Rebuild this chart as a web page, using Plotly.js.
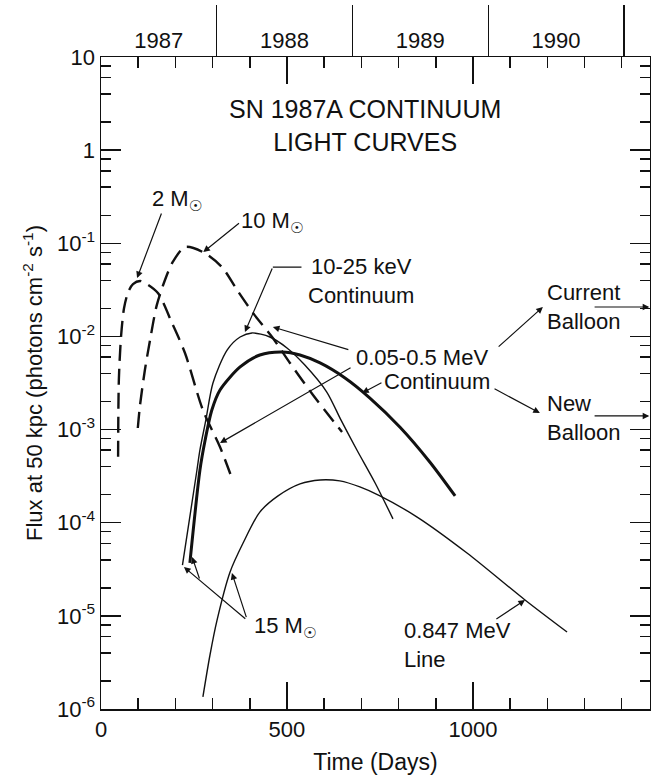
<!DOCTYPE html>
<html>
<head>
<meta charset="utf-8">
<script src="https://cdn.plot.ly/plotly-3.0.1.min.js"></script>
<style>html,body{margin:0;padding:0;background:#fff;}#chart{width:651px;height:775px;}</style>
</head>
<body>
<div id="chart"></div>
<script>
// ---- data (days since explosion, flux in photons cm^-2 s^-1) ----
const m2Days  = [46, 48, 54, 62, 73, 86, 105, 118, 153, 191, 226, 274, 320, 352];
const m2Flux  = [5.1e-4, 3.4e-3, 1.01e-2, 2.02e-2, 2.99e-2, 3.65e-2, 3.94e-2, 3.75e-2, 2.92e-2, 1.39e-2, 6.6e-3, 1.62e-3, 6.5e-4, 3.0e-4];

const m10Days = [99, 105, 118, 132, 150, 172, 193, 226, 274, 325, 366, 409, 462, 508, 570, 648];
const m10Flux = [1.04e-3, 1.84e-3, 4.36e-3, 9.2e-3, 2.17e-2, 4.04e-2, 6.3e-2, 9.12e-2, 8.05e-2, 5.56e-2, 3.15e-2, 1.78e-2, 9.6e-3, 5.19e-3, 2.35e-3, 9.4e-4];

const kevDays = [219, 258, 266, 282, 301, 339, 374, 406, 454, 500, 548, 607, 645, 688, 737, 785];
const kevFlux = [3.5e-5, 3.68e-4, 6.04e-4, 1.27e-3, 3.16e-3, 7.14e-3, 9.86e-3, 1.09e-2, 9.86e-3, 7.52e-3, 4.93e-3, 2.53e-3, 1.27e-3, 6.04e-4, 2.67e-4, 1.1e-4];

const mevDays = [239, 266, 280, 298, 320, 374, 427, 487, 535, 589, 656, 723, 804, 884, 952];
const mevFlux = [3.7e-5, 3.68e-4, 7.73e-4, 1.62e-3, 2.66e-3, 4.7e-3, 6.32e-3, 6.81e-3, 6.32e-3, 5.19e-3, 3.58e-3, 2.18e-3, 1.06e-3, 4.49e-4, 1.94e-4];

const lineDays = [274, 293, 312, 347, 382, 427, 476, 535, 589, 642, 696, 750, 850, 984, 1140, 1253];
const lineFlux = [1.35e-6, 3.8e-6, 9.0e-6, 2.96e-5, 6.05e-5, 1.3e-4, 1.94e-4, 2.61e-4, 2.88e-4, 2.81e-4, 2.42e-4, 1.94e-4, 1.15e-4, 4.73e-5, 1.48e-5, 6.7e-6];

const xMajorTicks = [0, 500, 1000];
const xTickText   = ['0', '500', '1000'];
const yDecades    = [-6, -5, -4, -3, -2, -1, 0, 1];
const yTickText   = ['10<sup>-6</sup>','10<sup>-5</sup>','10<sup>-4</sup>','10<sup>-3</sup>','10<sup>-2</sup>','10<sup>-1</sup>','1','10'];
const years          = ['1987', '1988', '1989', '1990'];
const yearBoundaries = [311, 676, 1041, 1406];

const X_MAX = 1476;
const FONT = 'Liberation Sans, Arial, DejaVu Sans, sans-serif';
const INK = '#111';

// ---- derived tick positions ----
const xMinor = [];
for (let d = 100; d <= 1400; d += 100) if (d % 500 !== 0) xMinor.push(d);
const yMajor = yDecades.map(p => Math.pow(10, p));
const yMinor = [];
for (let p = -6; p < 1; p++) [2, 4, 6, 8].forEach(m => yMinor.push(m * Math.pow(10, p)));
const yearStarts = [0].concat(yearBoundaries.slice(0, -1));
const yearMids = years.map((y, i) => (yearStarts[i] + yearBoundaries[i]) / 2);

const traces = [
  {x: m2Days,  y: m2Flux,  mode: 'lines', line: {color: INK, width: 2.4, dash: '16px,8px', shape: 'spline', smoothing: 0.8}},
  {x: m10Days, y: m10Flux, mode: 'lines', line: {color: INK, width: 2.4, dash: '16px,8px', shape: 'spline', smoothing: 0.8}},
  {x: kevDays, y: kevFlux, mode: 'lines', line: {color: INK, width: 1.4, shape: 'spline', smoothing: 0.8}},
  {x: mevDays, y: mevFlux, mode: 'lines', line: {color: INK, width: 3, shape: 'spline', smoothing: 0.8}},
  {x: lineDays, y: lineFlux, mode: 'lines', line: {color: INK, width: 1.4, shape: 'spline', smoothing: 0.8}},
  {x: [null], y: [null], xaxis: 'x2', yaxis: 'y', mode: 'lines', hoverinfo: 'skip'},
  {x: [null], y: [null], xaxis: 'x3', yaxis: 'y', mode: 'lines', hoverinfo: 'skip'}
].map(t => Object.assign({showlegend: false, hoverinfo: 'skip'}, t));

const L = v => Math.log10(v);
function txt(x, flux, text, opts) {
  return Object.assign({x: x, y: L(flux), xref: 'x', yref: 'y', text: text, showarrow: false,
    font: {family: FONT, size: 22, color: INK}}, opts || {});
}
function arrow(x0, f0, x1, f1, head) {
  return {x: x1, y: L(f1), ax: x0, ay: L(f0), xref: 'x', yref: 'y', axref: 'x', ayref: 'y',
    text: '', showarrow: true, arrowhead: head === undefined ? 2 : head, arrowsize: 1.1,
    arrowwidth: 1.2, arrowcolor: INK, standoff: 0, startstandoff: 0};
}

const annotations = [
  txt(710, Math.pow(10, 0.26), 'SN 1987A CONTINUUM<br>LIGHT CURVES', {font: {family: FONT, size: 25, color: INK}}),
  txt(207, Math.pow(10, -0.535), '2 M<sub>☉</sub>'),
  arrow(164, Math.pow(10, -0.664), 97, Math.pow(10, -1.373)),
  txt(460, Math.pow(10, -0.772), '10 M<sub>☉</sub>'),
  arrow(375, Math.pow(10, -0.772), 275, Math.pow(10, -1.094)),
  txt(699, Math.pow(10, -1.41), '10-25 keV<br>Continuum'),
  arrow(543, Math.pow(10, -1.255), 462, Math.pow(10, -1.255), 0),
  arrow(462, Math.pow(10, -1.255), 387, Math.pow(10, -1.953)),
  txt(863, Math.pow(10, -2.221), '0.05-0.5 MeV'),
  txt(903, Math.pow(10, -2.479), 'Continuum'),
  arrow(669, Math.pow(10, -2.146), 462, Math.pow(10, -1.899)),
  arrow(675, Math.pow(10, -2.328), 320, Math.pow(10, -3.144)),
  arrow(758, Math.pow(10, -2.489), 702, Math.pow(10, -2.607)),
  arrow(1065, Math.pow(10, -2.124), 1188, Math.pow(10, -1.684)),
  arrow(1054, Math.pow(10, -2.554), 1180, Math.pow(10, -2.822)),
  txt(1194, Math.pow(10, -1.689), 'Current<br>Balloon', {xanchor: 'left', align: 'left'}),
  arrow(1323, Math.pow(10, -1.684), 1474, Math.pow(10, -1.684)),
  txt(1194, Math.pow(10, -2.876), 'New<br>Balloon', {xanchor: 'left', align: 'left'}),
  arrow(1323, Math.pow(10, -2.854), 1474, Math.pow(10, -2.854)),
  txt(495, Math.pow(10, -5.12), '15 M<sub>☉</sub>'),
  arrow(392, Math.pow(10, -5.045), 223, Math.pow(10, -4.476)),
  arrow(266, Math.pow(10, -4.615), 245, Math.pow(10, -4.368)),
  arrow(392, Math.pow(10, -5.03), 352, Math.pow(10, -4.54)),
  txt(809, Math.pow(10, -5.313), '0.847 MeV<br>Line', {xanchor: 'left', align: 'left'}),
  arrow(1059, Math.pow(10, -5.045), 1140, Math.pow(10, -4.83))
];

const tickFont = {family: FONT, size: 22, color: INK};
const layout = {
  width: 651, height: 775,
  margin: {l: 101, r: 1, t: 57, b: 66},
  paper_bgcolor: '#fff', plot_bgcolor: '#fff',
  font: {family: FONT, color: INK},
  showlegend: false,
  xaxis: {
    range: [0, X_MAX], showgrid: false, zeroline: false,
    showline: true, linecolor: INK, linewidth: 1.5, mirror: 'ticks',
    ticks: 'inside', ticklen: 27, tickwidth: 1.5, tickcolor: INK,
    tickmode: 'array', tickvals: xMajorTicks, ticktext: xTickText, tickfont: tickFont,
    minor: {tickmode: 'array', tickvals: xMinor, ticks: 'inside', ticklen: 11, tickwidth: 1.5, tickcolor: INK, showgrid: false},
    title: {text: 'Time (Days)', font: {family: FONT, size: 23, color: INK}, standoff: 16}
  },
  xaxis2: {
    overlaying: 'x', side: 'top', anchor: 'y', range: [0, X_MAX],
    showgrid: false, zeroline: false, showline: false,
    tickmode: 'array', tickvals: yearBoundaries, showticklabels: false,
    ticks: 'outside', ticklen: 51, tickwidth: 1.3, tickcolor: INK
  },
  xaxis3: {
    overlaying: 'x', side: 'top', anchor: 'y', range: [0, X_MAX],
    showgrid: false, zeroline: false, showline: false,
    tickmode: 'array', tickvals: yearMids, ticktext: years, tickfont: tickFont,
    ticks: '', ticklabelstandoff: 4
  },
  yaxis: {
    type: 'log', range: [-6, 1], showgrid: false, zeroline: false,
    showline: true, linecolor: INK, linewidth: 1.5, mirror: 'ticks',
    ticks: 'inside', ticklen: 20, tickwidth: 1.5, tickcolor: INK,
    tickmode: 'array', tickvals: yMajor, ticktext: yTickText, tickfont: tickFont,
    minor: {tickmode: 'array', tickvals: yMinor, ticks: 'inside', ticklen: 10, tickwidth: 1.5, tickcolor: INK, showgrid: false},
    title: {text: 'Flux at 50 kpc (photons cm<sup>-2</sup> s<sup>-1</sup>)', font: {family: FONT, size: 22, color: INK}, standoff: 8}
  },
  annotations: annotations
};

Plotly.newPlot('chart', traces, layout, {staticPlot: true, displayModeBar: false});
</script>
</body>
</html>
